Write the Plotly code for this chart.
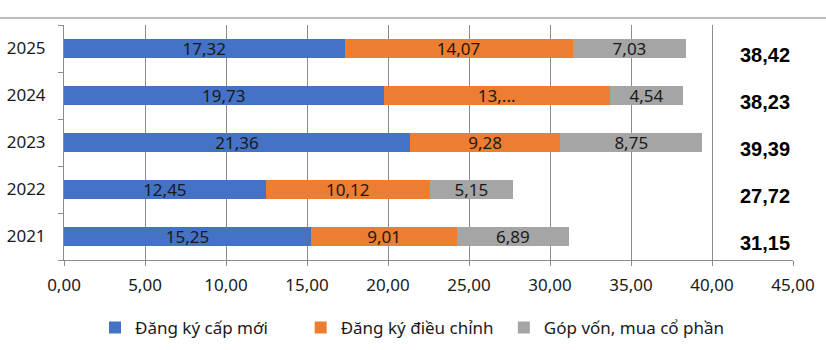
import plotly.graph_objects as go

years = ["2021", "2022", "2023", "2024", "2025"]
new_reg = [15.25, 12.45, 21.36, 19.73, 17.32]
adjusted = [9.01, 10.12, 9.28, 13.96, 14.07]
capital = [6.89, 5.15, 8.75, 4.54, 7.03]
names = ["Đăng ký cấp mới", "Đăng ký điều chỉnh", "Góp vốn, mua cổ phần"]
colors = ["#4472C4", "#ED7D31", "#A5A5A5"]
x_ticks = [0, 5, 10, 15, 20, 25, 30, 35, 40, 45]
# label shown truncated in the original chart
truncated = {("Đăng ký điều chỉnh", "2024"): "13,..."}

FONT = "Noto Sans"
TXT = "#1a1a1a"
GRID = "#8c8c8c"


def fmt(v):
    return f"{v:.2f}".replace(".", ",")


legend_ids = ["legend", "legend2", "legend3"]
legend_x = [0.115, 0.364, 0.610]

fig = go.Figure()
for name, vals, col, lid in zip(names, [new_reg, adjusted, capital], colors, legend_ids):
    texts = [truncated.get((name, y), fmt(v)) for y, v in zip(years, vals)]
    fig.add_trace(go.Bar(
        y=years, x=vals, name=name, orientation="h", legend=lid,
        marker=dict(color=col, line=dict(width=0)),
        text=texts, textposition="inside", insidetextanchor="middle",
        textangle=0, constraintext="none",
        textfont=dict(family=FONT, size=17, color=TXT),
        hoverinfo="skip",
    ))

totals = [round(a + b + c, 2) for a, b, c in zip(new_reg, adjusted, capital)]
for i, t in enumerate(totals):
    fig.add_annotation(
        x=43.3, y=i, xref="x", yref="y", text="<b>" + fmt(t) + "</b>",
        showarrow=False, xanchor="center", yanchor="middle", yshift=-6,
        font=dict(family="Liberation Sans", size=20, color="#000000"),
    )

# top border line of the original chart frame
fig.add_shape(type="line", xref="paper", yref="paper",
              x0=-0.1, x1=1.1, y0=1.0298, y1=1.0298,
              line=dict(color="#a6a6a6", width=1.5))

leg_common = dict(orientation="h", xanchor="left", xref="container",
                  yref="container", y=0.063, yanchor="middle",
                  font=dict(family=FONT, size=17, color=TXT),
                  itemclick=False, bgcolor="rgba(0,0,0,0)")

fig.update_layout(
    width=826, height=350,
    margin=dict(l=64, r=33, t=25, b=90, autoexpand=False),
    barmode="stack", bargap=0.596,
    separators=",.",
    plot_bgcolor="white", paper_bgcolor="white",
    font=dict(family=FONT, size=17, color=TXT),
    showlegend=True,
    legend=dict(x=legend_x[0], **leg_common),
    legend2=dict(x=legend_x[1], **leg_common),
    legend3=dict(x=legend_x[2], **leg_common),
    xaxis=dict(range=[0, 45], tickvals=x_ticks, tickformat=".2f",
               showgrid=True, gridcolor=GRID, gridwidth=1,
               showline=True, linecolor=GRID, linewidth=1,
               ticks="outside", ticklen=5, tickcolor=GRID,
               zeroline=False, ticklabelstandoff=5,
               tickfont=dict(family=FONT, size=17, color=TXT)),
    yaxis=dict(type="category", categoryorder="array", categoryarray=years,
               range=[-0.5, 4.5], showgrid=False,
               showline=True, linecolor=GRID, linewidth=1,
               ticks="outside", ticklen=5, tickcolor=GRID, tickson="boundaries",
               ticklabelstandoff=14,
               tickfont=dict(family=FONT, size=17, color=TXT)),
)

fig.write_html("out.html")
